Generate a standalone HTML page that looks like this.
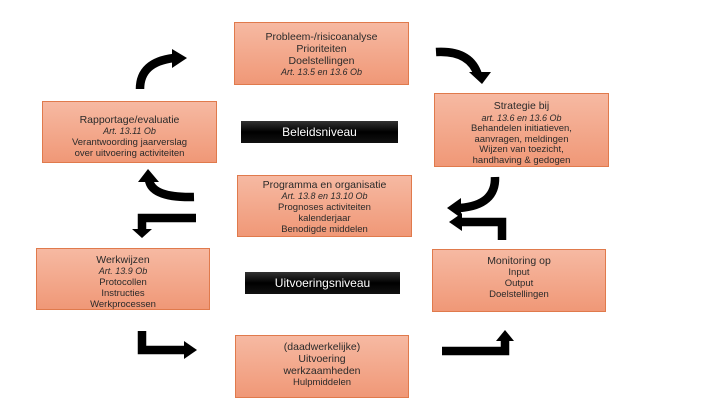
<!DOCTYPE html>
<html><head><meta charset="utf-8"><style>
body{margin:0;width:724px;height:411px;background:#fff;position:relative;overflow:hidden;font-family:"Liberation Sans",sans-serif;}
.b{position:absolute;box-sizing:border-box;border:1.5px solid #e07a4c;background:linear-gradient(#f6b9a2,#f09877);color:#2a2a2a;font-size:9.5px;line-height:11px;text-align:center;padding-top:4px;}
.b i{font-size:9px}
.t{font-size:10.5px;line-height:12px}
.bar{position:absolute;background:linear-gradient(#333,#000 50%,#111);color:#fff;font-size:12px;text-align:center;line-height:22px;height:22px;}
svg{position:absolute;left:0;top:0}
</style></head><body>
<div class="b" style="left:234px;top:22px;width:175px;height:63px;padding-top:8px"><span class="t">Probleem-/risicoanalyse<br>Prioriteiten<br>Doelstellingen</span><br><i>Art. 13.5 en 13.6 Ob</i></div>
<div class="b" style="left:42px;top:101px;width:175px;height:62px;padding-top:12px"><span class="t">Rapportage/evaluatie</span><br><i>Art. 13.11 Ob</i><br>Verantwoording jaarverslag<br>over uitvoering activiteiten</div>
<div class="b" style="left:434px;top:93px;width:175px;height:74px;padding-top:6px;line-height:10.5px"><span class="t">Strategie bij</span><br><i>art. 13.6 en 13.6 Ob</i><br>Behandelen initiatieven,<br>aanvragen, meldingen<br>Wijzen van toezicht,<br>handhaving &amp; gedogen</div>
<div class="b" style="left:237px;top:175px;width:175px;height:62px;padding-top:3px"><span class="t">Programma en organisatie</span><br><i>Art. 13.8 en 13.10 Ob</i><br>Prognoses activiteiten<br>kalenderjaar<br>Benodigde middelen</div>
<div class="b" style="left:36px;top:248px;width:174px;height:62px;padding-top:5px"><span class="t">Werkwijzen</span><br><i>Art. 13.9 Ob</i><br>Protocollen<br>Instructies<br>Werkprocessen</div>
<div class="b" style="left:432px;top:249px;width:174px;height:63px;padding-top:5px"><span class="t">Monitoring op</span><br>Input<br>Output<br>Doelstellingen</div>
<div class="b" style="left:235px;top:335px;width:174px;height:63px;padding-top:5px"><span class="t">(daadwerkelijke)<br>Uitvoering<br>werkzaamheden</span><br>Hulpmiddelen</div>
<div class="bar" style="left:241px;top:121px;width:157px">Beleidsniveau</div>
<div class="bar" style="left:245px;top:272px;width:155px">Uitvoeringsniveau</div>
<svg width="724" height="411" viewBox="0 0 724 411">
<g fill="none" stroke="#000" stroke-width="8.5">
<path d="M140 89 Q140 62 174 58"/>
<path d="M436 52 Q470 50 478 75"/>
<path d="M495 177 Q496 205 460 208"/>
<path d="M194 197 Q152 198 149 180"/>
<path d="M502 240 V222 H460"/>
<path d="M196 218 H142 V230"/>
<path d="M142 331 V350 H186"/>
<path d="M442 351 H505 V340"/>
</g>
<g fill="#000">
<polygon points="172,49 187,58 172,68"/>
<polygon points="469,72 491,72 482,84"/>
<polygon points="461,198 461,218 447,208"/>
<polygon points="138,182 159,182 148,169"/>
<polygon points="462,213 462,231 449,222"/>
<polygon points="132,229 152,229 142,238"/>
<polygon points="184,341 197,350 184,359"/>
<polygon points="496,341 514,341 505,330"/>
</g>
</svg>
</body></html>
